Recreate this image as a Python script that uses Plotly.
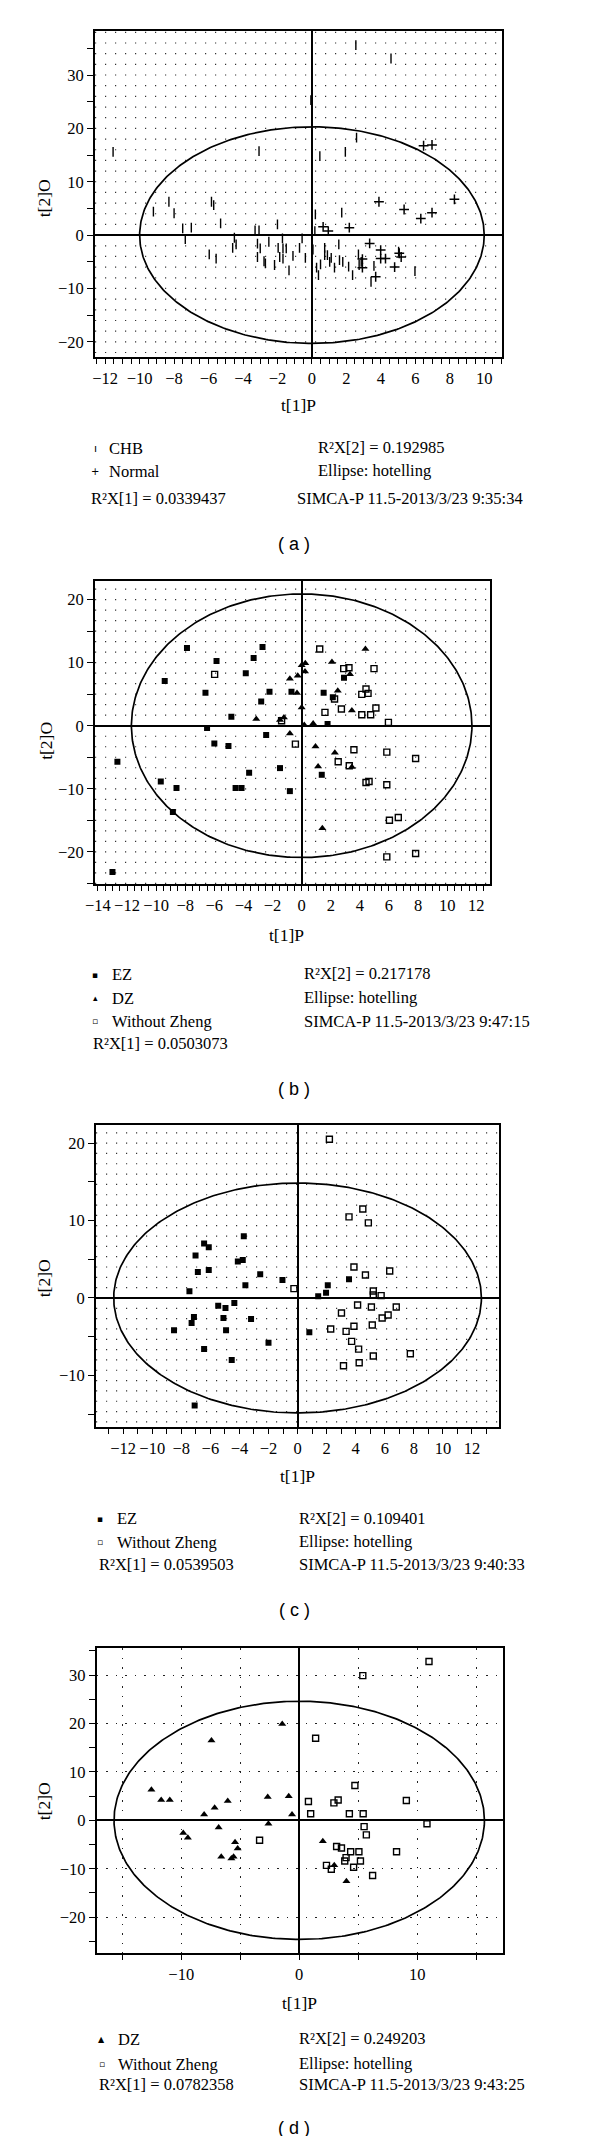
import numpy as np
import plotly.graph_objects as go

W, H = 600, 2136
SERIF = "Liberation Serif"
SANS = "Liberation Sans"

# ---------------- Panel (a) data ----------------
a_chb_x = [2.55, 4.59, -0.06, 2.59, -11.54, -3.07, 0.46, 1.94, -9.2, -8.3,
           -8.0, -5.83, -5.7, -5.3, -7.5, -7.0, -7.35, -3.3, -3.07, -2.0,
           0.2, 1.73, 0.17, -4.5, -4.4, -4.6, -5.96, -5.56, -3.16, -3.0,
           -3.16, -2.78, -2.7, -2.5, -2.17, -1.96, -1.87, -1.71, -1.68, -1.49,
           -1.68, -1.33, -1.1, -0.72, -0.57, -0.38, 0.06, 0.27, 0.38, 0.5,
           0.74, 0.74, 0.9, 1.03, 1.12, 1.31, 1.56, 1.6, 1.79, 2.13,
           2.36, 2.7, 2.74, 2.86, 3.43, 3.6, 5.03, 5.98]
a_chb_y = [35.6, 33.1, 25.3, 18.25, 15.6, 15.75, 14.8, 15.6, 4.4, 6.25,
           4.1, 6.25, 5.6, 2.2, 1.25, 1.4, -0.75, 0.9, 0.9, 2.0,
           3.9, 4.2, 0.75, -0.5, -1.75, -2.4, -3.6, -4.4, -1.6, -2.5,
           -4.1, -4.9, -5.3, -1.25, -5.6, -2.4, -4.1, -0.6, -2.5, -2.5,
           -4.4, -6.6, -3.9, -2.4, -0.6, -4.25, -2.7, -6.1, -7.5, -5.5,
           -2.4, -3.75, -3.75, -5.0, -4.25, -6.1, -1.75, -4.7, -5.0, -5.9,
           -7.5, -3.6, -5.6, -5.0, -8.75, -5.75, -3.1, -6.75]
a_normal_x = [6.48, 6.97, 3.89, 5.35, 6.32, 6.97, 8.27, 0.65, 0.95, 2.17,
              3.35, 3.99, 3.99, 4.27, 2.93, 2.93, 3.7, 4.8, 5.07, 5.18]
a_normal_y = [16.75, 16.9, 6.25, 4.8, 3.1, 4.2, 6.7, 1.56, 0.75, 1.4,
              -1.56, -2.8, -4.4, -4.4, -4.5, -6.1, -7.8, -6.0, -3.4, -4.1]
a_ellipse = (10.0, 20.3)

# ---------------- Panel (b) data ----------------
b_ez_x = [-7.88, -2.69, -3.3, -5.85, -9.41, -3.84, -6.61, -2.21, -2.78, -0.7,
          -4.83, -6.5, -2.44, -6.0, -5.03, -3.61, -1.49, -12.66, -9.68, -8.6,
          -4.54, -4.13, -0.81, -8.85, -13.0, 1.51, 2.14, 2.91, 1.78, 1.38]
b_ez_y = [12.33, 12.5, 10.74, 10.26, 7.09, 8.31, 5.24, 5.4, 3.86, 5.4,
          1.43, -0.37, -1.48, -2.8, -3.23, -7.46, -6.72, -5.71, -8.84, -9.89,
          -9.89, -9.89, -10.37, -13.7, -23.2, 5.24, 4.5, 7.62, 0.26, -7.78]
b_dz_x = [4.38, 2.08, 0.25, 0.0, 0.23, -0.27, -0.81, 3.32, 2.48, -0.32,
          0.0, 3.45, -3.12, -1.22, -1.49, 0.18, 0.79, -0.81, 0.95, 2.28,
          1.13, 3.45, 1.42]
b_dz_y = [12.17, 10.1, 9.9, 9.6, 8.6, 7.94, 7.46, 8.15, 5.56, 5.19,
          2.91, 2.43, 1.06, 1.32, 0.9, 0.1, 0.37, -1.22, -3.28, -4.29,
          -6.46, -6.56, -16.24]
b_wz_x = [1.24, 4.97, 2.89, 3.25, -5.98, 4.42, 4.13, 4.56, 2.26, 1.6,
          2.73, 4.13, 4.74, 5.1, 5.96, -1.38, -0.43, 3.59, 5.85, 7.83,
          2.51, 3.27, 4.42, 4.63, 5.85, 6.03, 6.64, 5.85, 7.83]
b_wz_y = [12.17, 9.05, 9.05, 9.2, 8.15, 5.82, 4.97, 5.13, 4.23, 2.12,
          2.65, 1.75, 1.75, 2.8, 0.53, 0.79, -2.91, -3.81, -4.18, -5.19,
          -5.71, -6.35, -9.0, -8.84, -9.37, -15.0, -14.55, -20.8, -20.26]
b_ellipse = (11.7, 20.9)

# ---------------- Panel (c) data ----------------
c_ez_x = [-3.7, -6.43, -6.11, -7.02, -3.77, -4.11, -6.11, -6.86, -2.57, -1.04,
          -3.59, -7.44, 3.54, 2.08, 1.96, 1.42, -5.46, -4.96, -4.35, -5.1,
          -3.2, -7.13, -7.29, -8.5, -4.92, 0.81, -2.0, -6.43, -4.53, -7.08]
c_ez_y = [7.97, 7.03, 6.55, 5.47, 4.91, 4.7, 3.62, 3.36, 3.06, 2.33,
          1.64, 0.86, 2.41, 1.64, 0.69, 0.22, -0.99, -1.29, -0.65, -2.59,
          -2.72, -2.46, -3.23, -4.18, -4.18, -4.44, -5.78, -6.6, -8.02, -13.9]
c_wz_x = [4.49, 3.54, 4.87, 3.88, 6.34, 4.67, -0.25, 5.21, 5.21, 5.75,
          4.13, 5.08, 6.79, 3.02, 6.23, 5.82, 3.88, 5.14, 2.28, 3.34,
          3.72, 4.2, 5.21, 7.76, 4.24, 3.16, 2.19]
c_wz_y = [11.5, 10.47, 9.7, 4.0, 3.49, 2.97, 1.21, 0.91, 0.39, 0.3,
          -0.91, -1.16, -1.16, -1.94, -2.2, -2.59, -3.66, -3.49, -4.01, -4.31,
          -5.6, -6.6, -7.5, -7.2, -8.36, -8.75, 20.5]
c_ellipse = (12.65, 14.85)

# ---------------- Panel (d) data ----------------
d_dz_x = [-1.44, -7.44, -12.53, -11.7, -10.97, -6.06, -2.67, -0.89, -7.17, -8.06,
          -0.61, -2.61, -9.83, -9.44, -6.83, -5.44, -5.22, -6.61, -5.75, -5.56,
          2.0, 2.97, 4.0]
d_dz_y = [19.9, 16.5, 6.3, 4.2, 4.2, 4.0, 4.8, 5.0, 2.6, 1.2,
          1.2, -0.7, -2.6, -3.6, -1.5, -4.5, -5.8, -7.5, -7.9, -7.5,
          -4.3, -9.3, -12.6]
d_wz_x = [11.0, 5.39, 1.39, 0.78, 2.94, 3.3, 4.72, 9.08, 0.97, 4.25,
          5.42, 5.5, 5.69, 10.83, -3.36, 3.17, 3.58, 4.36, 5.06, 8.25,
          3.97, 3.86, 5.19, 2.31, 2.72, 4.61, 6.22]
d_wz_y = [32.8, 29.9, 16.96, 3.9, 3.6, 4.2, 7.2, 4.1, 1.37, 1.37,
          1.37, -1.3, -3.0, -0.7, -4.1, -5.4, -5.7, -6.5, -6.5, -6.5,
          -7.7, -8.4, -8.4, -9.3, -10.1, -9.7, -11.4]
d_ellipse = (15.7, 24.6)

# Summary statistics / legends
r2x1 = ["0.0339437", "0.0503073", "0.0539503", "0.0782358"]
r2x2 = ["0.192985", "0.217178", "0.109401", "0.249203"]
simca_time = ["9:35:34", "9:47:15", "9:40:33", "9:43:25"]
captions = ["( a )", "( b )", "( c )", "( d )"]
x_title = "t[1]P"
y_title = "t[2]O"

# ---------------- styles ----------------
def px(x):
    return x / W


def py(y):
    return 1 - y / H


MK = {
    "CHB": dict(symbol="line-ns", size=7, line=dict(color="black", width=1.4), color="black"),
    "Normal": dict(symbol="cross-thin", size=7, line=dict(color="black", width=1.5), color="black"),
    "EZ": dict(symbol="square", size=6, color="black", line=dict(width=0)),
    "DZ": dict(symbol="triangle-up", size=7, color="black", line=dict(width=0)),
    "WZ": dict(symbol="square-open", size=6, color="black", line=dict(color="black", width=1.4)),
}

panels = [
    dict(frame=(78.3, 492.7, 23, 349.3), xr=[-12.59, 11.06], yr=[-22.9, 38.25],
         xd=2, xm=0.5, row=2.0, ell=a_ellipse,
         series=[(a_chb_x, a_chb_y, "CHB"), (a_normal_x, a_normal_y, "Normal")]),
    dict(frame=(78.3, 480, 572.7, 876), xr=[-14.2, 12.94], yr=[-25.1, 23.0],
         xd=2, xm=0.5, row=5 / 3, ell=b_ellipse,
         series=[(b_ez_x, b_ez_y, "EZ"), (b_dz_x, b_dz_y, "DZ"), (b_wz_x, b_wz_y, "WZ")]),
    dict(frame=(79.3, 489.3, 1117.3, 1419.3), xr=[-13.87, 13.87], yr=[-16.7, 22.3],
         xd=2, xm=1, row=4 / 3, ell=c_ellipse,
         series=[(c_ez_x, c_ez_y, "EZ"), (c_wz_x, c_wz_y, "WZ")]),
    dict(frame=(80, 493.3, 1640, 1945), xr=[-17.17, 17.28], yr=[-27.4, 35.6],
         xd=10, xm=5, row=None, ell=d_ellipse,
         series=[(d_dz_x, d_dz_y, "DZ"), (d_wz_x, d_wz_y, "WZ")]),
]
xtitle_pos = [(285, 397.3), (273.3, 926.7), (284.3, 1468.3), (286, 1995)]
ytitle_pos = [(26.7, 190), (28.3, 733), (26.7, 1270), (26.7, 1793)]

fig = go.Figure()
tickfont = dict(family=SERIF, size=16.5, color="black")
shapes = []
annotations = []

for i, p in enumerate(panels):
    sfx = "" if i == 0 else str(i + 1)
    xa, ya = "x" + sfx, "y" + sfx
    l, r, t, b = p["frame"]
    th = np.linspace(0, 2 * np.pi, 400)
    ea, eb = p["ell"]
    fig.add_trace(go.Scatter(x=ea * np.cos(th), y=eb * np.sin(th), mode="lines",
                             line=dict(color="black", width=1.7), xaxis=xa, yaxis=ya,
                             showlegend=False, hoverinfo="skip"))
    for sx, sy, key in p["series"]:
        fig.add_trace(go.Scatter(x=sx, y=sy, mode="markers", marker=MK[key],
                                 xaxis=xa, yaxis=ya, showlegend=False))

    dotted = p["row"] is None
    xaxis = dict(domain=[px(l), px(r)], anchor=ya, range=p["xr"], tick0=0, dtick=p["xd"],
                 showline=True, linecolor="black", linewidth=1.8, mirror=True,
                 ticks="outside", ticklen=5, tickwidth=1.3, tickcolor="black",
                 tickfont=tickfont, zeroline=True, zerolinecolor="black", zerolinewidth=1.5,
                 showgrid=dotted, gridcolor="#222", gridwidth=1.3, griddash="1.5px,8px",
                 minor=dict(dtick=p["xm"], tick0=0, ticks="outside", ticklen=5, tickwidth=1.3,
                            tickcolor="black", showgrid=dotted, gridcolor="#222",
                            gridwidth=1.3, griddash="1.5px,8px"),
                 fixedrange=True)
    yaxis = dict(domain=[py(b), py(t)], anchor=xa, range=p["yr"], tick0=0, dtick=10,
                 showline=True, linecolor="black", linewidth=1.8, mirror=True,
                 ticks="outside", ticklen=6, tickwidth=1.3, tickcolor="black",
                 tickfont=tickfont, zeroline=True, zerolinecolor="black", zerolinewidth=1.5,
                 showgrid=dotted, gridcolor="#222", gridwidth=1.3, griddash="1.5px,8px",
                 minor=dict(dtick=5, tick0=0, ticks="outside", ticklen=6, tickwidth=1.3,
                            tickcolor="black", showgrid=False),
                 fixedrange=True)
    fig.layout["xaxis" + sfx] = xaxis
    fig.layout["yaxis" + sfx] = yaxis

    # dotted background rows (SIMCA dot raster)
    if not dotted:
        step = p["row"]
        k0 = int(np.ceil(p["yr"][0] / step))
        k1 = int(np.floor(p["yr"][1] / step))
        for k in range(k0, k1 + 1):
            if k == 0:
                continue
            shapes.append(dict(type="line", xref=xa + " domain", x0=0, x1=1,
                               yref=ya, y0=k * step, y1=k * step, layer="below",
                               line=dict(color="#333", width=1.2, dash="1.2px,8.8px")))

    # axis titles
    xtx, xty = xtitle_pos[i]
    ytx, yty = ytitle_pos[i]
    annotations.append(dict(text=x_title, xref="paper", yref="paper",
                            x=px(xtx), y=py(xty), showarrow=False,
                            font=dict(family=SERIF, size=17.5, color="black"),
                            xanchor="center", yanchor="middle"))
    annotations.append(dict(text=y_title, xref="paper", yref="paper",
                            x=px(ytx), y=py(yty), showarrow=False, textangle=-90,
                            font=dict(family=SERIF, size=17.5, color="black"),
                            xanchor="center", yanchor="middle"))


def txt(s, x, y, anchor="left", size=16.5, fam=SERIF):
    annotations.append(dict(text=s, xref="paper", yref="paper", x=px(x), y=py(y),
                            showarrow=False, xanchor=anchor, yanchor="middle",
                            font=dict(family=fam, size=size, color="black")))


def glyph(g, x, y, size=9):
    annotations.append(dict(text=g, xref="paper", yref="paper", x=px(x), y=py(y),
                            showarrow=False, xanchor="center", yanchor="middle",
                            font=dict(family="DejaVu Sans", size=size, color="black")))


R1 = "R²X[1] = "
R2 = "R²X[2] = "
SIM = "SIMCA-P 11.5-2013/3/23 "

# legend (a)
glyph("ı", 78.5, 440, 11)
txt("CHB", 91, 440)
glyph("+", 78.5, 464, 10)
txt("Normal", 91, 464)
txt(R1 + r2x1[0], 72.7, 490.7)
txt(R2 + r2x2[0], 303, 439.3)
txt("Ellipse: hotelling", 303, 462.3)
txt(SIM + simca_time[0], 282, 490.7)
txt(captions[0], 281, 536, "center", 18, SANS)

# legend (b)
glyph("▪", 78.5, 966.7)
txt("EZ", 93.3, 966.7)
glyph("▴", 78.5, 990)
txt("DZ", 93.3, 990)
glyph("▫", 78.5, 1013.3)
txt("Without Zheng", 93.3, 1013.3)
txt(R1 + r2x1[1], 74, 1035.7)
txt(R2 + r2x2[1], 288.7, 965)
txt("Ellipse: hotelling", 288.7, 989)
txt(SIM + simca_time[1], 288.7, 1013.3)
txt(captions[1], 281, 1080.7, "center", 18, SANS)

# legend (c)
glyph("▪", 83.3, 1510.7)
txt("EZ", 99, 1510.7)
glyph("▫", 83.3, 1534.3)
txt("Without Zheng", 99, 1534.3)
txt(R1 + r2x1[2], 80, 1556.7)
txt(R2 + r2x2[2], 284, 1510)
txt("Ellipse: hotelling", 284, 1533.3)
txt(SIM + simca_time[2], 284, 1556.7)
txt(captions[2], 281, 1602.3, "center", 18, SANS)

# legend (d)
glyph("▲", 85, 2031.7, 8)
txt("DZ", 100, 2031.7)
glyph("▫", 85, 2056)
txt("Without Zheng", 100, 2056)
txt(R1 + r2x1[3], 80, 2076.7)
txt(R2 + r2x2[3], 283.3, 2030.7)
txt("Ellipse: hotelling", 283.3, 2055.3)
txt(SIM + simca_time[3], 283.3, 2076.7)
txt(captions[3], 281, 2120, "center", 18, SANS)

fig.update_layout(width=W, height=H, margin=dict(l=0, r=0, t=0, b=0),
                  paper_bgcolor="white", plot_bgcolor="white",
                  shapes=shapes, annotations=annotations, showlegend=False)

fig.write_html("out.html")
